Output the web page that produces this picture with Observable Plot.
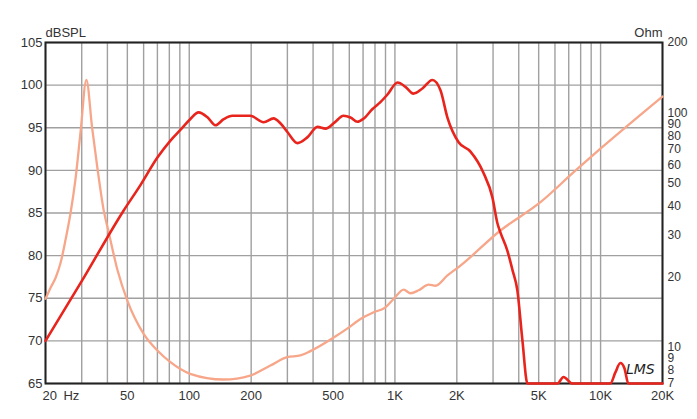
<!DOCTYPE html>
<html>
<head>
<meta charset="utf-8">
<script src="https://cdn.jsdelivr.net/npm/d3@7"></script>
<script src="https://cdn.jsdelivr.net/npm/@observablehq/plot@0.6"></script>
<style>
  html, body { margin: 0; padding: 0; background: #fff; }
  #chart { width: 697px; height: 419px; }
</style>
</head>
<body>
<div id="chart"></div>
<script>
// SPL response (dB) vs frequency (Hz)
const splFreq = [20, 30, 48, 58, 70, 81, 91, 101, 111, 123, 134, 147, 162, 198, 230, 257, 278, 300, 336, 376, 420, 460, 508, 562, 608, 657, 703, 778, 850, 920, 1030, 1125, 1230, 1360, 1520, 1665, 1800, 2040, 2330, 2690, 2980, 3150, 3260, 3520, 3730, 3940, 4170, 4410, 6170, 6600, 7300, 11160, 11800, 12480, 13060, 13650, 20000];
const splDb   = [70.0, 77.0, 85.3, 88.3, 91.5, 93.5, 94.8, 96.0, 96.8, 96.2, 95.3, 96.0, 96.4, 96.4, 95.65, 96.1, 95.5, 94.5, 93.2, 93.9, 95.1, 94.9, 95.6, 96.4, 96.2, 95.7, 96.05, 97.2, 98.0, 98.9, 100.3, 99.8, 99.0, 99.6, 100.6, 99.4, 96.2, 93.3, 92.2, 89.75, 86.8, 83.8, 82.7, 80.6, 78.3, 75.9, 70.0, 65, 65, 65.76, 65, 65, 66.3, 67.4, 66.8, 65, 65];

// Impedance (Ohm) vs frequency (Hz)
const zFreq = [20, 21.2, 22.4, 23.7, 25.0, 26.5, 28.0, 29.6, 31.6, 33.7, 35.9, 38.4, 40.6, 44.8, 50, 60, 70, 81, 101, 147, 198, 248, 299, 347, 388, 504, 586, 680, 789, 899, 987, 1104, 1190, 1305, 1460, 1574, 1795, 2082, 3258, 5100, 7400, 9980, 20000];
const zOhm  = [16.1, 18.0, 19.8, 23.0, 28.6, 37.6, 52.5, 82.6, 138.6, 86.7, 56.8, 38.3, 30.9, 21.3, 15.8, 11.4, 9.68, 8.63, 7.70, 7.28, 7.57, 8.35, 9.07, 9.22, 9.62, 11.0, 12.0, 13.2, 14.1, 14.8, 16.1, 17.6, 17.0, 17.5, 18.5, 18.3, 20.2, 22.3, 31.5, 41.6, 55.9, 70.4, 117.6];

// Axis ticks
const dbTicks = [65, 70, 75, 80, 85, 90, 95, 100, 105];
const freqTicks = [50, 100, 200, 500, 1000, 2000, 5000, 10000, 20000];
const freqTickLabels = ["50", "100", "200", "500", "1K", "2K", "5K", "10K", "20K"];
const freqGrid = [20, 30, 40, 50, 60, 70, 80, 90, 100, 200, 300, 400, 500, 600, 700, 800, 900, 1000, 2000, 3000, 4000, 5000, 6000, 7000, 8000, 9000, 10000, 20000];
const ohmTicks = [7, 8, 9, 10, 20, 30, 40, 50, 60, 70, 80, 90, 100, 200];

const yMin = 65, yMax = 105, zMin = 7, zMax = 200;
const ohmToY = z => yMin + (yMax - yMin) * Math.log(z / zMin) / Math.log(zMax / zMin);
const yToOhm = v => Math.round(zMin * Math.pow(zMax / zMin, (v - yMin) / (yMax - yMin)));

const spl = splFreq.map((f, i) => ({f, v: splDb[i]}));
const imp = zFreq.map((f, i) => ({f, v: ohmToY(zOhm[i])}));
const xLabels = freqTicks.map((f, i) => ({f, v: yMin, t: freqTickLabels[i]}));

const chart = Plot.plot({
  width: 697,
  height: 419,
  marginTop: 42,
  marginBottom: 36,
  marginLeft: 45,
  marginRight: 35,
  x: {type: "log", domain: [20, 20000], axis: null},
  y: {domain: [yMin, yMax], axis: null},
  style: {fontFamily: "'Liberation Sans', Arial, sans-serif", fontSize: "13px", color: "#333", background: "#fff"},
  marks: [
    Plot.gridX({ticks: freqGrid, stroke: "#a0a0a0", strokeOpacity: 1, strokeWidth: 1.4}),
    Plot.gridY({ticks: dbTicks, stroke: "#a0a0a0", strokeOpacity: 1, strokeWidth: 1.4}),
    Plot.axisY({ticks: dbTicks, anchor: "left", tickSize: 0, tickPadding: 3, label: null, fontSize: 13}),
    Plot.axisY({ticks: ohmTicks.map(ohmToY), anchor: "right", tickSize: 0, tickPadding: 5, label: null, fontSize: 12, tickFormat: v => String(yToOhm(v))}),
    Plot.text(xLabels, {x: "f", y: "v", text: "t", dy: 12, fontSize: 13, fill: "#333"}),
    Plot.text([{f: 20, v: yMin, t: "20\u2002Hz"}], {x: "f", y: "v", text: "t", textAnchor: "start", dx: -3, dy: 12, fontSize: 13, fill: "#333"}),
    Plot.text(["dBSPL"], {text: d => d, frameAnchor: "top-left", textAnchor: "start", lineAnchor: "middle", dy: -10, fontSize: 13, fill: "#333"}),
    Plot.text(["Ohm"], {text: d => d, frameAnchor: "top-right", textAnchor: "end", lineAnchor: "middle", dy: -10, fontSize: 13, fill: "#333"}),
    Plot.frame({stroke: "#222", strokeWidth: 2}),
    Plot.line(imp, {x: "f", y: "v", stroke: "#f7a689", strokeWidth: 2.3, curve: "monotone-x"}),
    Plot.line(spl, {x: "f", y: "v", stroke: "#e8241c", strokeWidth: 2.6, curve: "monotone-x"}),
    Plot.text([{f: 15600, v: 66.6, t: "LMS"}], {x: "f", y: "v", text: "t", fontStyle: "italic", fontSize: 14, fill: "#222", fontFamily: "'DejaVu Sans', sans-serif"})
  ]
});
document.getElementById("chart").appendChild(chart);
</script>
</body>
</html>
